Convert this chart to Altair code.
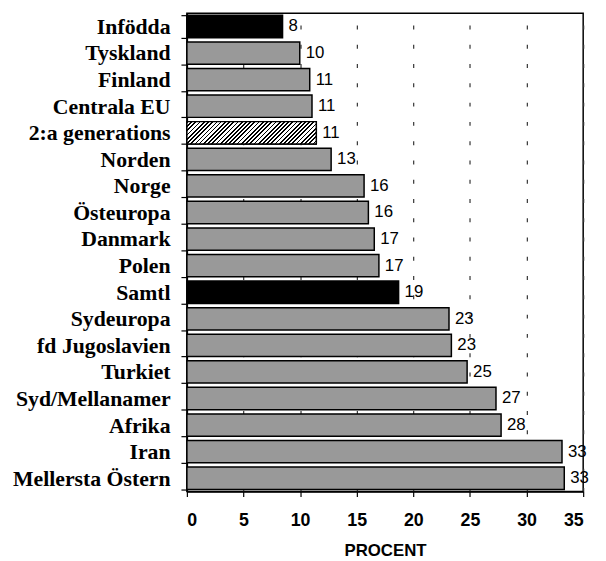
import altair as alt
import pandas as pd

categories = ["Infödda", "Tyskland", "Finland", "Centrala EU", "2:a generations",
              "Norden", "Norge", "Östeuropa", "Danmark", "Polen", "Samtl",
              "Sydeuropa", "fd Jugoslavien", "Turkiet", "Syd/Mellanamer",
              "Afrika", "Iran", "Mellersta Östern"]
values = [8.45, 9.97, 10.85, 11.05, 11.43, 12.74, 15.65, 16.03, 16.55, 16.96,
          18.7, 23.15, 23.36, 24.75, 27.3, 27.75, 33.13, 33.33]
kinds = ["black", "gray", "gray", "gray", "hatch", "gray", "gray", "gray", "gray",
         "gray", "black", "gray", "gray", "gray", "gray", "gray", "gray", "gray"]

df = pd.DataFrame({"cat": categories, "val": values, "kind": kinds})

W, H = 401, 484
XMAX = 35
PAD_IN, PAD_OUT = 0.16, 0.08

# hatch gradient (diagonal stripes) for the "2:a generations" bar
hv = values[kinds.index("hatch")]
step = H / (len(categories) - PAD_IN + 2 * PAD_OUT)
bar_w = hv / XMAX * W
bar_h = step * (1 - PAD_IN)
r = bar_h / bar_w
s = (1 + r) / (1 + r * r)
n_per = 36
frac = 0.42
stops = []
for i in range(n_per):
    a = i / n_per
    b = (i + frac) / n_per
    c = (i + 1) / n_per
    stops += [{"offset": a, "color": "black"}, {"offset": b, "color": "black"},
              {"offset": b, "color": "white"}, {"offset": c, "color": "white"}]
hatch = {"gradient": "linear", "x1": 0, "y1": 0, "x2": s, "y2": s * r, "stops": stops}

y_enc = alt.Y("cat:N", sort=categories, title=None,
              scale=alt.Scale(paddingInner=PAD_IN, paddingOuter=PAD_OUT),
              axis=alt.Axis(labelFont="Liberation Serif", labelFontWeight="bold",
                            labelFontSize=22, labelColor="black", labelLimit=400,
                            labelPadding=11, tickBand="extent", tickSize=6,
                            tickColor="black", tickWidth=1.2, domainColor="black",
                            domainWidth=1.5))
x_enc = alt.X("val:Q", scale=alt.Scale(domain=[0, XMAX], nice=False),
              title="PROCENT",
              axis=alt.Axis(values=list(range(0, 36, 5)), grid=True,
                            gridDash=[4, 15.5], gridColor="#333333", gridWidth=1.2,
                            tickSize=5, tickColor="black", tickWidth=1.2,
                            domainColor="black", domainWidth=1.5,
                            labelFont="Liberation Sans", labelFontWeight="bold",
                            labelFontSize=18, labelColor="black", labelPadding=15,
                            titleFont="Liberation Sans", titleFontWeight="bold",
                            titleFontSize=17, titleColor="black", titlePadding=14))

base = alt.Chart(df)

bars = base.mark_bar(stroke="black", strokeWidth=1.5).encode(
    x=x_enc, y=y_enc,
    fill=alt.Fill("kind:N", legend=None,
                  scale=alt.Scale(domain=["gray", "black", "hatch"],
                                  range=["#999999", "#000000", "#ffffff"])))

hatched = base.transform_filter(alt.datum.kind == "hatch").mark_bar(
    stroke="black", strokeWidth=1.5, fill=hatch).encode(x="val:Q", y=alt.Y("cat:N", sort=categories))

labels = base.mark_text(align="left", baseline="middle", dx=6,
                        font="Liberation Sans", fontSize=17, color="black").encode(
    x="val:Q", y=alt.Y("cat:N", sort=categories), text=alt.Text("val:Q", format=".0f"))

chart = alt.layer(bars, hatched, labels).properties(
    width=W, height=H,
    autosize=alt.AutoSizeParams(type="none"),
    padding={"left": 181, "top": 2, "right": 15, "bottom": 65}
).configure_view(stroke="black", strokeWidth=1.5)

chart.save("out.html", embed_options={"renderer": "svg", "actions": False})
